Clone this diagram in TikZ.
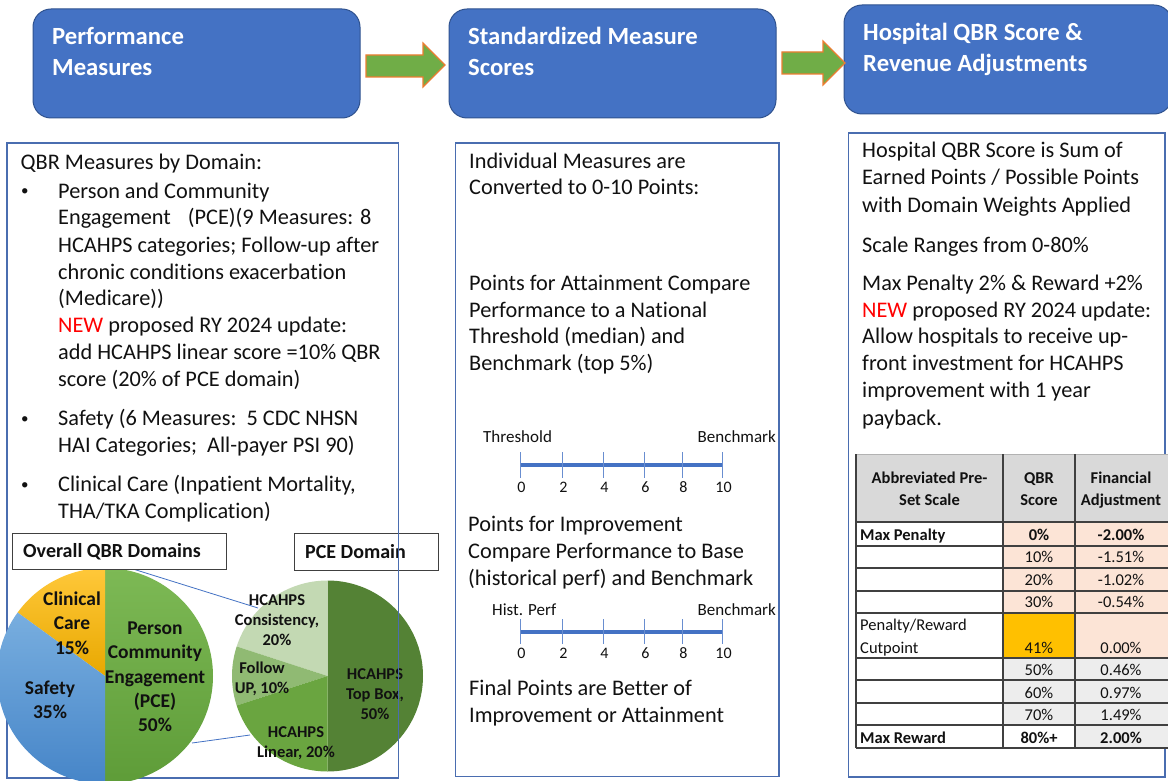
\documentclass[tikz,border=0pt]{standalone}
\usepackage{fontspec}
\setmainfont[Ligatures={NoCommon}]{Carlito}
\definecolor{hdrblue}{HTML}{4472C4}
\definecolor{hdredge}{HTML}{2F528F}
\definecolor{panelblue}{HTML}{4A6DB0}
\definecolor{arrgreen}{HTML}{70AD47}
\definecolor{arrorange}{HTML}{ED7D31}
\definecolor{newred}{HTML}{FF0000}
\definecolor{peach}{HTML}{FCE4D6}
\definecolor{goldc}{HTML}{FFC000}
\definecolor{lgray}{HTML}{EDEDED}
\definecolor{hgray}{HTML}{D9D9D9}
\definecolor{tline}{HTML}{404040}
\definecolor{pceTop}{HTML}{7DB955}
\definecolor{pceBot}{HTML}{5E9C38}
\definecolor{safTop}{HTML}{78AEDF}
\definecolor{safBot}{HTML}{4685C8}
\definecolor{cliTop}{HTML}{FFC83A}
\definecolor{cliBot}{HTML}{E8A800}
\definecolor{topbox}{HTML}{548235}
\definecolor{linear}{HTML}{6AA540}
\definecolor{follow}{HTML}{90BA73}
\definecolor{consist}{HTML}{C3D9B3}
\definecolor{ink}{HTML}{111111}
\begin{document}
\begin{tikzpicture}[x=1pt,y=-1pt,
  hdr/.style={draw=hdredge, line width=1pt, fill=hdrblue, rounded corners=18pt, inner sep=0pt},
  hdrtxt/.style={anchor=base west, inner sep=0pt, text=white, font=\bfseries\fontsize{24.7}{30}\selectfont},
  txt/.style={anchor=base west, inner sep=0pt, text=ink, font=\fontsize{22.3}{27}\selectfont},
  bul/.style={anchor=base west, inner sep=0pt, text=ink, font=\fontsize{15}{27}\selectfont},
  small/.style={inner sep=0pt, text=ink, font=\fontsize{17}{20}\selectfont},
  num/.style={anchor=base, inner sep=0pt, text=ink, font=\fontsize{16}{20}\selectfont},
  tab/.style={anchor=base, inner sep=0pt, text=ink, font=\fontsize{16.5}{20}\selectfont},
  tabb/.style={anchor=base, inner sep=0pt, text=ink, font=\bfseries\fontsize{16.5}{20}\selectfont},
  tabl/.style={anchor=base west, inner sep=0pt, text=ink, font=\fontsize{16.5}{20}\selectfont},
  tablb/.style={anchor=base west, inner sep=0pt, text=ink, font=\bfseries\fontsize{16.5}{20}\selectfont},
  pielbl/.style={align=center, inner sep=0pt, text=ink, font=\bfseries\fontsize{19.5}{24.3}\selectfont},
  pcelbl/.style={align=center, inner sep=0pt, text=ink, font=\bfseries\fontsize{16.5}{20}\selectfont},
  boxlbl/.style={anchor=base west, inner sep=0pt, text=ink, font=\bfseries\fontsize{20}{24}\selectfont},
  lblframe/.style={draw=tline, line width=0.9pt, fill=white, inner sep=0pt},
  panel/.style={draw=panelblue, line width=1.3pt},
  blockarrow/.style={fill=arrgreen, draw=arrorange, line width=1.2pt},
  scaleline/.style={draw=hdrblue, line width=4pt},
  tick/.style={draw=hdrblue!80, line width=0.9pt},
  conn/.style={draw=hdrblue, line width=0.8pt},
  tabline/.style={draw=tline, line width=1.3pt}
]
\useasboundingbox (0,0) rectangle (1168,781);
\clip (0,0) rectangle (1168,781);
\fill[white] (0,0) rectangle (1168,781);

% ---------- header boxes ----------
\node[hdr, minimum width=327pt, minimum height=109pt] (h1) at (196.5,63.5) {};
\node[hdr, minimum width=327pt, minimum height=109pt] (h2) at (612.5,63.5) {};
\node[hdr, minimum width=328pt, minimum height=109pt] (h3) at (1008,59.5) {};
\node[hdrtxt] (h1a) at (52,45) {Performance};
\node[hdrtxt] (h1b) at (52,76) {Measures};
\node[hdrtxt] (h2a) at (468,45) {Standardized Measure};
\node[hdrtxt] (h2b) at (468,76) {Scores};
\node[hdrtxt] (h3a) at (863,41) {Hospital QBR Score \&};
\node[hdrtxt] (h3b) at (863,72) {Revenue Adjustments};

% block arrows
\draw[blockarrow] (366,55) -- (423,55) -- (423,43) -- (445,65) -- (423,87) -- (423,77) -- (366,77) -- cycle;
\draw[blockarrow] (782,52) -- (823,52) -- (823,41) -- (845,63) -- (823,85) -- (823,74) -- (782,74) -- cycle;

% ---------- left panel text ----------
\node[txt] (l0) at (20.5,170) {QBR Measures by Domain:};
\node[bul] (b1) at (21,196) {•};
\node[txt] (l1) at (58,198) {Person and Community};
\node[txt] (l2) at (58,225) {Engagement\hspace{17pt}(PCE)(9 Measures: 8};
\node[txt] (l3) at (58,252) {HCAHPS categories; Follow-up after};
\node[txt] (l4) at (58,279) {chronic conditions exacerbation};
\node[txt] (l5) at (58,305) {(Medicare))};
\node[txt] (l6) at (58,332) {{\color{newred}NEW} proposed RY 2024 update:};
\node[txt] (l7) at (58,359) {add HCAHPS linear score =10\% QBR};
\node[txt] (l8) at (58,386) {score (20\% of PCE domain)};
\node[bul] (b2) at (21,423) {•};
\node[txt] (l9) at (58,425) {Safety (6 Measures:\ \ 5 CDC NHSN};
\node[txt] (l10) at (58,452) {HAI Categories;\ \ All-payer PSI 90)};
\node[bul] (b3) at (21,489) {•};
\node[txt] (l11) at (58,491) {Clinical Care (Inpatient Mortality,};
\node[txt] (l12) at (58,518) {THA/TKA Complication)};

% ---------- pies ----------
\node[lblframe, minimum width=144pt, minimum height=37pt] (pcebox) at (366,551.5) {};
\node[boxlbl] (pcet) at (305,558) {PCE Domain};

\coordinate (ov1) at (133,569);
\coordinate (pc1) at (258,608);
\coordinate (ov2) at (192,743);
\coordinate (pc2) at (250,735);
\draw[conn] (ov1) -- (pc1);
\draw[conn] (ov2) -- (pc2);

% PCE pie
\fill[topbox] (327.5,676) -- ++(-90:95.5) arc[start angle=-90, end angle=90, radius=95.5] -- cycle;
\fill[consist] (327.5,676) -- ++(-90:95.5) arc[start angle=-90, end angle=-162, radius=95.5] -- cycle;
\fill[follow] (327.5,676) -- ++(-162:95.5) arc[start angle=-162, end angle=-198, radius=95.5] -- cycle;
\fill[linear] (327.5,676) -- ++(-198:95.5) arc[start angle=-198, end angle=-270, radius=95.5] -- cycle;
\node[pcelbl] (pcl1) at (277,620) {HCAHPS\\Consistency,\\20\%};
\node[pcelbl] (pcl2) at (262,679) {Follow\\UP, 10\%};
\node[pcelbl] (pcl3) at (375,694) {HCAHPS\\Top Box,\\50\%};
\node[pcelbl] (pcl4) at (296,743) {HCAHPS\\Linear, 20\%};

% left panel frame
\draw[panel] (7,143) rectangle (398.5,778);

% Overall pie
\shade[top color=pceTop, bottom color=pceBot] (105,676) -- ++(-90:108) arc[start angle=-90, end angle=90, radius=108] -- cycle;
\shade[top color=cliTop, bottom color=cliBot] (105,676) -- ++(-90:108) arc[start angle=-90, end angle=-144, radius=108] -- cycle;
\shade[top color=safTop, bottom color=safBot] (105,676) -- ++(-144:108) arc[start angle=-144, end angle=-270, radius=108] -- cycle;
\node[pielbl] (ol1) at (72,623) {Clinical\\Care\\15\%};
\node[pielbl] (ol2) at (50,700) {Safety\\35\%};
\node[pielbl] (ol3) at (155,677) {Person\\Community\\Engagement\\(PCE)\\50\%};

\node[lblframe, minimum width=214pt, minimum height=36pt] (ovbox) at (119,551) {};
\node[boxlbl] (ovt) at (23,557) {Overall QBR Domains};

% ---------- middle panel ----------
\draw[panel] (455.5,143) rectangle (779,776.5);
\node[txt] (m1) at (469,168) {Individual Measures are};
\node[txt] (m2) at (469,195) {Converted to 0-10 Points:};
\node[txt] (m3) at (469,290) {Points for Attainment Compare};
\node[txt] (m4) at (469,317) {Performance to a National};
\node[txt] (m5) at (469,343) {Threshold (median) and};
\node[txt] (m6) at (469,370) {Benchmark (top 5\%)};

% scale 1
\node[small, anchor=base west] (s1l) at (483,442) {Threshold};
\node[small, anchor=base east] (s1r) at (776,442) {Benchmark};
\coordinate (s1a) at (520,465);
\coordinate (s1b) at (722,465);
\draw[scaleline] (s1a) -- (s1b);
\foreach \xx/\lab in {520/0,562/2,603/4,644/6,682/8,722/10}{
  \draw[tick] (\xx,452) -- (\xx,478);
  \node[num] (sa\lab) at (\xx+1.5,492) {\lab};
}

\node[txt] (m7) at (468,531) {Points for Improvement};
\node[txt] (m8) at (468,558) {Compare Performance to Base};
\node[txt] (m9) at (468,585) {(historical perf) and Benchmark};

% scale 2
\node[small, anchor=base west] (s2l) at (492,615) {Hist. Perf};
\node[small, anchor=base east] (s2r) at (776,615) {Benchmark};
\coordinate (s2a) at (520,632);
\coordinate (s2b) at (722,632);
\draw[scaleline] (s2a) -- (s2b);
\foreach \xx/\lab in {520/0,562/2,603/4,644/6,682/8,722/10}{
  \draw[tick] (\xx,619) -- (\xx,644);
  \node[num] (sb\lab) at (\xx+1.5,658) {\lab};
}

\node[txt] (m10) at (469,695) {Final Points are Better of};
\node[txt] (m11) at (469,722) {Improvement or Attainment};

% ---------- right panel ----------
\draw[panel] (848.5,133) rectangle (1165,777);
\node[txt] (r1) at (862,158) {Hospital QBR Score is Sum of};
\node[txt] (r2) at (862,185) {Earned Points / Possible Points};
\node[txt] (r3) at (862,212) {with Domain Weights Applied};
\node[txt] (r4) at (862,252) {Scale Ranges from 0-80\%};
\node[txt] (r5) at (862,290) {Max Penalty 2\% \& Reward +2\%};
\node[txt] (r6) at (862,317) {{\color{newred}NEW} proposed RY 2024 update:};
\node[txt] (r7) at (862,343) {Allow hospitals to receive up-};
\node[txt] (r8) at (862,370) {front investment for HCAHPS};
\node[txt] (r9) at (862,397) {improvement with 1 year};
\node[txt] (r10) at (862,425) {payback.};

% table fills
\fill[hgray] (856,454) rectangle (1168,522);
\fill[white] (856,522) rectangle (1003,748);
\fill[peach] (1003,522) rectangle (1168,613);
\fill[goldc] (1003,613) rectangle (1075,658);
\fill[peach] (1075,613) rectangle (1168,658);
\fill[lgray] (1003,658) rectangle (1168,725);
\fill[white] (1003,725) rectangle (1075,748);
\fill[lgray] (1075,725) rectangle (1168,748);
% table lines
\draw[draw=gray!60, line width=1pt] (856,454) -- (1168,454);
\foreach \yy in {522,546,568,591,613,658,680,703,725,748}{
  \draw[tabline] (856,\yy) -- (1168,\yy);
}
\draw[tabline] (856,454) -- (856,748);
\draw[tabline] (1003,454) -- (1003,748);
\draw[tabline] (1075,454) -- (1075,748);

% table text
\node[tabb] (th1) at (929.5,483) {Abbreviated Pre-};
\node[tabb] (th2) at (929.5,505) {Set Scale};
\node[tabb] (th3) at (1039,483) {QBR};
\node[tabb] (th4) at (1039,505) {Score};
\node[tabb] (th5) at (1121,483) {Financial};
\node[tabb] (th6) at (1121,505) {Adjustment};

\node[tablb] (ta1) at (860,540) {Max Penalty};
\node[tabb] (tq1) at (1039,540) {0\%};
\node[tabb] (tf1) at (1121,540) {-2.00\%};
\node[tab] (tq2) at (1039,562.5) {10\%};
\node[tab] (tf2) at (1121,562.5) {-1.51\%};
\node[tab] (tq3) at (1039,585) {20\%};
\node[tab] (tf3) at (1121,585) {-1.02\%};
\node[tab] (tq4) at (1039,607.5) {30\%};
\node[tab] (tf4) at (1121,607.5) {-0.54\%};
\node[tabl] (ta5a) at (860,630) {Penalty/Reward};
\node[tabl] (ta5b) at (860,653) {Cutpoint};
\node[tab] (tq5) at (1039,653) {41\%};
\node[tab] (tf5) at (1121,653) {0.00\%};
\node[tab] (tq6) at (1039,675) {50\%};
\node[tab] (tf6) at (1121,675) {0.46\%};
\node[tab] (tq7) at (1039,698) {60\%};
\node[tab] (tf7) at (1121,698) {0.97\%};
\node[tab] (tq8) at (1039,720.5) {70\%};
\node[tab] (tf8) at (1121,720.5) {1.49\%};
\node[tablb] (ta9) at (860,743) {Max Reward};
\node[tabb] (tq9) at (1039,743) {80\%+};
\node[tabb] (tf9) at (1121,743) {2.00\%};
\end{tikzpicture}
\end{document}
